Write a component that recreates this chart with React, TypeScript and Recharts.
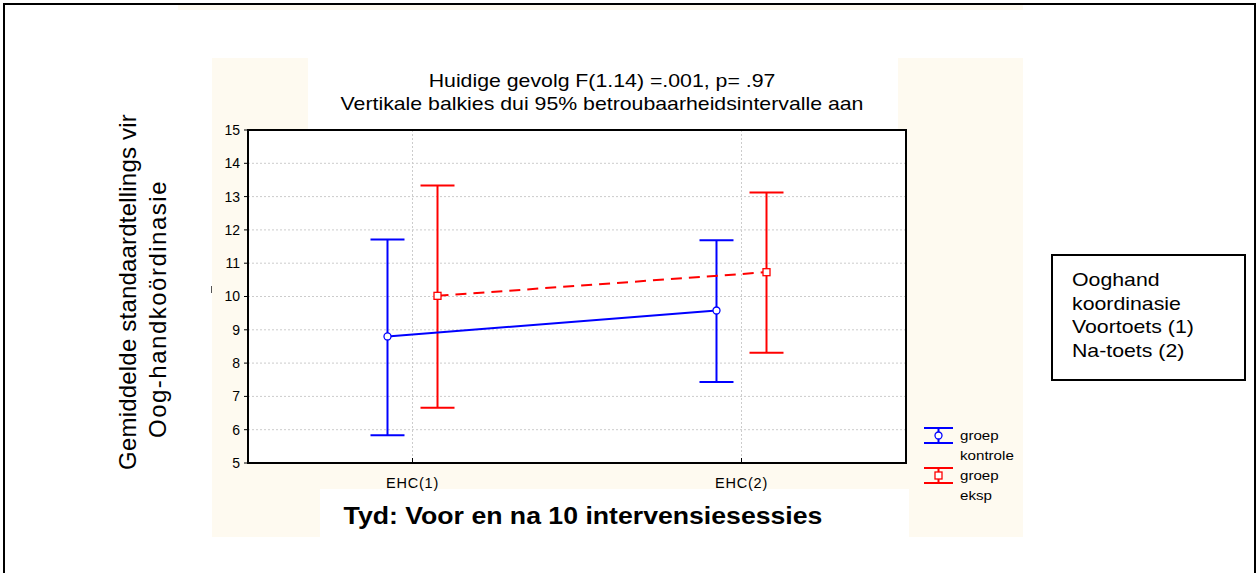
import {
  ComposedChart, Scatter, ErrorBar, XAxis, YAxis, CartesianGrid, ReferenceArea, Legend,
} from "recharts";

const categories = ["EHC(1)", "EHC(2)"];
const kontroleMean = [8.8, 9.58];
const kontroleLow = [5.83, 7.43];
const kontroleHigh = [11.71, 11.69];
const ekspMean = [10.02, 10.73];
const ekspLow = [6.66, 8.31];
const ekspHigh = [13.33, 13.12];
const yTicks = [5, 6, 7, 8, 9, 10, 11, 12, 13, 14, 15];
const xTicks = [0.5, 1.5];

const titleLines = [
  "Huidige gevolg F(1.14) =.001, p= .97",
  "Vertikale balkies dui 95% betroubaarheidsintervalle aan",
];
const yLabelLines = ["Gemiddelde standaardtellings vir", "Oog-handkoördinasie"];
const xLabel = "Tyd: Voor en na 10 intervensiesessies";
const legendItems = [
  { lines: ["groep", "kontrole"], color: "#0000ff", shape: "circle" },
  { lines: ["groep", "eksp"], color: "#ff0000", shape: "square" },
];
const noteLines = ["Ooghand", "koordinasie", "Voortoets (1)", "Na-toets (2)"];

const SHIFT = 0.076;
const FONT = "'Liberation Sans', Arial, sans-serif";
const CREAM = "#fefaf0";

const build = (mean: number[], low: number[], high: number[], shift: number) =>
  mean.map((m, i) => ({ x: i + 0.5 + shift, y: m, err: [m - low[i], high[i] - m] }));

const kontrole = build(kontroleMean, kontroleLow, kontroleHigh, -SHIFT);
const eksp = build(ekspMean, ekspLow, ekspHigh, SHIFT);

const Dot = (p: any) => (
  <circle cx={p.cx} cy={p.cy} r={3.5} fill="#fff" stroke="#0000ff" strokeWidth={1.3} />
);
const Box = (p: any) => (
  <rect x={p.cx - 3.5} y={p.cy - 3.5} width={7} height={7} fill="#fff" stroke="#ff0000" strokeWidth={1.3} />
);

const renderLegend = () => (
  <div style={{ fontFamily: FONT }}>
    {legendItems.map((it) => (
      <div key={it.lines[1]} style={{ display: "flex", height: 40 }}>
        <svg width={30} height={20}>
          <line x1={0} x2={29} y1={2} y2={2} stroke={it.color} strokeWidth={2} />
          <line x1={0} x2={29} y1={17} y2={17} stroke={it.color} strokeWidth={2} />
          <line x1={14.5} x2={14.5} y1={2} y2={17} stroke={it.color} strokeWidth={2} />
          {it.shape === "circle" ? (
            <circle cx={14.5} cy={9.5} r={3.5} fill="#fff" stroke={it.color} strokeWidth={1.3} />
          ) : (
            <rect x={11} y={6} width={7} height={7} fill="#fff" stroke={it.color} strokeWidth={1.3} />
          )}
        </svg>
        <div style={{ marginLeft: 6, fontSize: 13.5, lineHeight: "20px", color: "#000", transform: "scaleX(1.12)", transformOrigin: "left" }}>
          {it.lines.map((l) => <div key={l}>{l}</div>)}
        </div>
      </div>
    ))}
  </div>
);

export default function App() {
  return (
    <div style={{ position: "absolute", left: 0, top: 0, width: 1259, height: 573, overflow: "hidden", background: "#fff", fontFamily: FONT }}>
      <div style={{ position: "absolute", left: 3, top: 3, width: 1253, height: 640, border: "2px solid #000", boxSizing: "border-box" }} />
      <div style={{ position: "absolute", left: 178, top: 5, width: 845, height: 5, background: CREAM }} />
      <div style={{ position: "absolute", left: 212, top: 58, width: 811, height: 479, background: CREAM }} />
      <div style={{ position: "absolute", left: 308, top: 58, width: 590, height: 72, background: "#fff" }} />
      <div style={{ position: "absolute", left: 320, top: 489, width: 589, height: 48, background: "#fff" }} />
      <div style={{ position: "absolute", left: 211, top: 286, width: 1, height: 7, background: "#555" }} />

      <div style={{ position: "absolute", left: 0, top: 0 }}>
        <ComposedChart width={1259} height={573} margin={{ top: 130, right: 353, left: 208, bottom: 80 }}>
          <CartesianGrid stroke="#cccccc" strokeDasharray="2 2" fill="#fff" fillOpacity={1} />
          <XAxis
            type="number"
            dataKey="x"
            domain={[0, 2]}
            ticks={xTicks}
            tickFormatter={(v: number) => categories[Math.floor(v)]}
            axisLine={false}
            tickLine={{ stroke: "#000" }}
            tickSize={-5}
            tickMargin={20}
            height={30}
            tick={{ fill: "#000", fontSize: 14.5, fontFamily: FONT, letterSpacing: 0.8 }}
          />
          <XAxis
            xAxisId="top"
            orientation="top"
            type="number"
            domain={[0, 2]}
            ticks={xTicks}
            tick={false}
            axisLine={false}
            tickLine={{ stroke: "#000" }}
            tickSize={-5}
            height={0}
          />
          <YAxis
            type="number"
            dataKey="y"
            domain={[5, 15]}
            ticks={yTicks}
            interval={0}
            width={40}
            axisLine={{ stroke: "#000", strokeWidth: 2 }}
            tickLine={{ stroke: "#000" }}
            tickSize={4}
            tickMargin={4}
            tick={{ fill: "#000", fontSize: 14, fontFamily: FONT }}
          />
          <ReferenceArea x1={0} x2={2} y1={5} y2={15} fill="none" stroke="#000" strokeWidth={2} fillOpacity={0} />
          <Scatter
            data={kontrole}
            stroke="#0000ff"
            line={{ stroke: "#0000ff", strokeWidth: 2 }}
            shape={Dot}
            isAnimationActive={false}
          >
            <ErrorBar dataKey="err" direction="y" width={17} stroke="#0000ff" strokeWidth={2} />
          </Scatter>
          <Scatter
            data={eksp}
            stroke="#ff0000"
            line={{ stroke: "#ff0000", strokeWidth: 2, strokeDasharray: "11 7" }}
            shape={Box}
            isAnimationActive={false}
          >
            <ErrorBar dataKey="err" direction="y" width={17} stroke="#ff0000" strokeWidth={2} />
          </Scatter>
          <Legend
            layout="vertical"
            align="center"
            verticalAlign="middle"
            content={renderLegend}
            wrapperStyle={{ left: 924, top: 426, width: 110 }}
          />
        </ComposedChart>
      </div>

      <div style={{ position: "absolute", left: 302, top: 68.5, width: 600, textAlign: "center", fontSize: 19, lineHeight: "23px", transform: "scaleX(1.12)" }}>
        {titleLines.map((l) => <div key={l}>{l}</div>)}
      </div>

      <div style={{ position: "absolute", left: 283, top: 501, width: 600, textAlign: "center", fontSize: 24, fontWeight: "bold", lineHeight: "30px", transform: "scaleX(1.11)" }}>
        {xLabel}
      </div>

      <div style={{ position: "absolute", left: 128 - 200, top: 292 - 15, width: 400, height: 30, lineHeight: "30px", textAlign: "center", fontSize: 24, transform: "rotate(-90deg)", letterSpacing: 0.2 }}>
        {yLabelLines[0]}
      </div>
      <div style={{ position: "absolute", left: 158 - 200, top: 309 - 15, width: 400, height: 30, lineHeight: "30px", textAlign: "center", fontSize: 24, transform: "rotate(-90deg)", letterSpacing: 1.5 }}>
        {yLabelLines[1]}
      </div>

      <div style={{ position: "absolute", left: 1051, top: 254, width: 195, height: 127, border: "2px solid #000", boxSizing: "border-box", paddingLeft: 19, paddingTop: 12, fontSize: 19, lineHeight: "23.5px" }}>
        <div style={{ transform: "scaleX(1.12)", transformOrigin: "left" }}>
          {noteLines.map((l) => <div key={l}>{l}</div>)}
        </div>
      </div>
    </div>
  );
}
